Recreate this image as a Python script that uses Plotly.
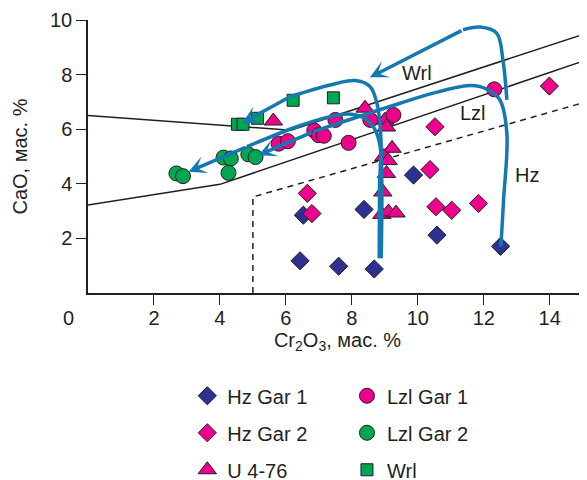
import plotly.graph_objects as go

# ---------------- data ----------------
hz1_x = [6.43, 6.53, 7.60, 8.68, 8.37, 9.87, 10.58, 12.51]
hz1_y = [1.18, 2.85, 0.98, 0.88, 3.06, 4.32, 2.12, 1.71]

hz2_x = [6.65, 6.79, 10.37, 10.52, 10.55, 11.03, 11.84, 13.99]
hz2_y = [3.65, 2.91, 4.52, 6.09, 3.16, 3.03, 3.28, 7.58]

u_x = [5.62, 8.40, 9.00, 9.05, 9.22, 8.97, 9.10, 9.05, 8.94, 8.91, 9.11, 9.34]
u_y = [6.30, 6.77, 6.33, 6.08, 5.30, 5.00, 4.85, 4.38, 3.70, 2.88, 2.97, 2.93]

lzl1_x = [5.78, 6.06, 6.86, 6.99, 7.15, 7.50, 7.90, 8.56, 9.26, 12.32]
lzl1_y = [5.47, 5.56, 5.95, 5.78, 5.76, 6.34, 5.50, 6.34, 6.52, 7.46]

lzl2_x = [2.68, 2.88, 4.11, 4.33, 4.26, 4.86, 5.08]
lzl2_y = [4.38, 4.28, 4.96, 4.93, 4.40, 5.08, 4.98]

wrl_x = [4.53, 4.70, 5.14, 6.22, 7.44]
wrl_y = [6.18, 6.18, 6.40, 7.06, 7.15]

# boundary lines
upper_x = [0, 6.15, 15.13]
upper_y = [6.50, 5.96, 9.52]
middle_x = [0, 4.0, 15.13]
middle_y = [3.22, 3.98, 8.54]
dashed_x = [5.0, 5.0, 15.13]
dashed_y = [0, 3.52, 7.01]

# trend arcs (control points, last point = arrow tip)
arc_wrl_x = [12.70, 12.58, 12.39, 11.89, 11.37, 8.55]
arc_wrl_y = [7.07, 8.54, 9.52, 9.74, 9.64, 7.90]

arc_a_x = [8.89, 8.91, 8.86, 8.76, 8.55, 8.10, 7.34, 6.13, 4.67]
arc_a_y = [1.27, 3.95, 6.09, 6.95, 7.56, 7.78, 7.62, 7.19, 6.22]

arc_b_x = [8.83, 8.84, 8.86, 8.65, 8.31, 7.85, 7.34, 6.33, 4.82, 3.05]
arc_b_y = [1.27, 3.95, 5.36, 6.09, 6.45, 6.56, 6.46, 6.09, 5.36, 4.44]

arc_c_x = [12.52, 12.60, 12.70, 12.49, 12.13, 11.89, 11.48, 10.47, 9.46, 6.83, 5.17]
arc_c_y = [1.71, 3.40, 5.85, 7.07, 7.44, 7.56, 7.59, 7.32, 6.95, 5.91, 5.05]

labels = ["Wrl", "Lzl", "Hz"]
label_x = [9.97, 11.67, 13.30]
label_y = [8.05, 6.58, 4.32]

x_ticks = [2, 4, 6, 8, 10, 12, 14]
y_ticks = [2, 4, 6, 8, 10]

# ---------------- style ----------------
INK = "#231F20"
NAVY = "#2E3192"
MAG = "#EC008C"
GRN = "#00A651"
BLUE = "#1479B0"
FONT = "Liberation Sans, Arial, sans-serif"

fig = go.Figure()

for xs, ys, dash in [(upper_x, upper_y, "solid"), (middle_x, middle_y, "solid"),
                     (dashed_x, dashed_y, "6px,5px")]:
    fig.add_trace(go.Scatter(x=xs, y=ys, mode="lines", showlegend=False,
                             line=dict(color=INK, width=1.5, dash=dash),
                             hoverinfo="skip"))

mline = dict(color=INK, width=1)
fig.add_trace(go.Scatter(x=hz1_x, y=hz1_y, mode="markers", name="Hz Gar 1", legend="legend",
                         marker=dict(symbol="diamond", size=14, color=NAVY, line=mline)))
fig.add_trace(go.Scatter(x=hz2_x, y=hz2_y, mode="markers", name="Hz Gar 2", legend="legend",
                         marker=dict(symbol="diamond", size=14, color=MAG, line=mline)))
fig.add_trace(go.Scatter(x=u_x, y=u_y, mode="markers", name="U 4-76", legend="legend",
                         marker=dict(symbol="triangle-up", size=16, color=MAG, line=mline)))
fig.add_trace(go.Scatter(x=lzl1_x, y=lzl1_y, mode="markers", name="Lzl Gar 1", legend="legend2",
                         marker=dict(symbol="circle", size=15, color=MAG, line=mline)))
fig.add_trace(go.Scatter(x=lzl2_x, y=lzl2_y, mode="markers", name="Lzl Gar 2", legend="legend2",
                         marker=dict(symbol="circle", size=15, color=GRN, line=mline)))
fig.add_trace(go.Scatter(x=wrl_x, y=wrl_y, mode="markers", name="Wrl", legend="legend2",
                         marker=dict(symbol="square", size=12, color=GRN, line=mline)))

annotations = []
for ax_, ay_ in [(arc_wrl_x, arc_wrl_y), (arc_a_x, arc_a_y), (arc_b_x, arc_b_y), (arc_c_x, arc_c_y)]:
    fig.add_trace(go.Scatter(x=ax_[:-1], y=ay_[:-1], mode="lines", showlegend=False,
                             line=dict(color=BLUE, width=3.5, shape="spline", smoothing=1.0),
                             hoverinfo="skip"))
    annotations.append(dict(x=ax_[-1], y=ay_[-1], ax=ax_[-2], ay=ay_[-2],
                            xref="x", yref="y", axref="x", ayref="y", text="",
                            showarrow=True, arrowhead=3, arrowsize=0.85, arrowwidth=3.5,
                            arrowcolor=BLUE, standoff=0))

for t, lx, ly in zip(labels, label_x, label_y):
    annotations.append(dict(x=lx, y=ly, xref="x", yref="y", text=t, showarrow=False,
                            font=dict(size=20, color=INK, family=FONT)))

# corner zero label (shared origin)
annotations.append(dict(x=-0.04, y=-0.092, xref="paper", yref="paper", text="0",
                        showarrow=False, xanchor="center", yanchor="middle",
                        font=dict(size=20, color=INK, family=FONT)))

# page body has an 8px default margin, so the figure is sized 8px smaller
fig.update_layout(
    width=579, height=472,
    margin=dict(l=80, r=0, t=12, b=187, autoexpand=False),
    paper_bgcolor="white", plot_bgcolor="white",
    font=dict(family=FONT, size=20, color=INK),
    annotations=annotations,
    xaxis=dict(range=[0, 15.13], tickvals=x_ticks, ticks="outside", ticklen=10,
               tickwidth=1.2, tickcolor=INK, showline=True, linecolor=INK, linewidth=1.5,
               showgrid=False, zeroline=False, automargin=False, ticklabelstandoff=-4,
               title=dict(text="Cr<sub>2</sub>O<sub>3</sub>, мас. %", font=dict(size=20), standoff=2)),
    yaxis=dict(range=[0, 10], tickvals=y_ticks, ticks="outside", ticklen=10,
               tickwidth=1.2, tickcolor=INK, showline=True, linecolor=INK, linewidth=1.5,
               showgrid=False, zeroline=False, automargin=False,
               title=dict(text="CaO, мас. %", font=dict(size=20), standoff=17)),
    legend=dict(x=0.199, y=-0.305, xanchor="left", yanchor="top", tracegroupgap=8,
                font=dict(size=20), bgcolor="rgba(0,0,0,0)"),
    legend2=dict(x=0.519, y=-0.305, xanchor="left", yanchor="top", tracegroupgap=8,
                 font=dict(size=20), bgcolor="rgba(0,0,0,0)"),
)
for tr in fig.data:
    if tr.name:
        tr.legendgroup = tr.name

fig.write_html("out.html")
